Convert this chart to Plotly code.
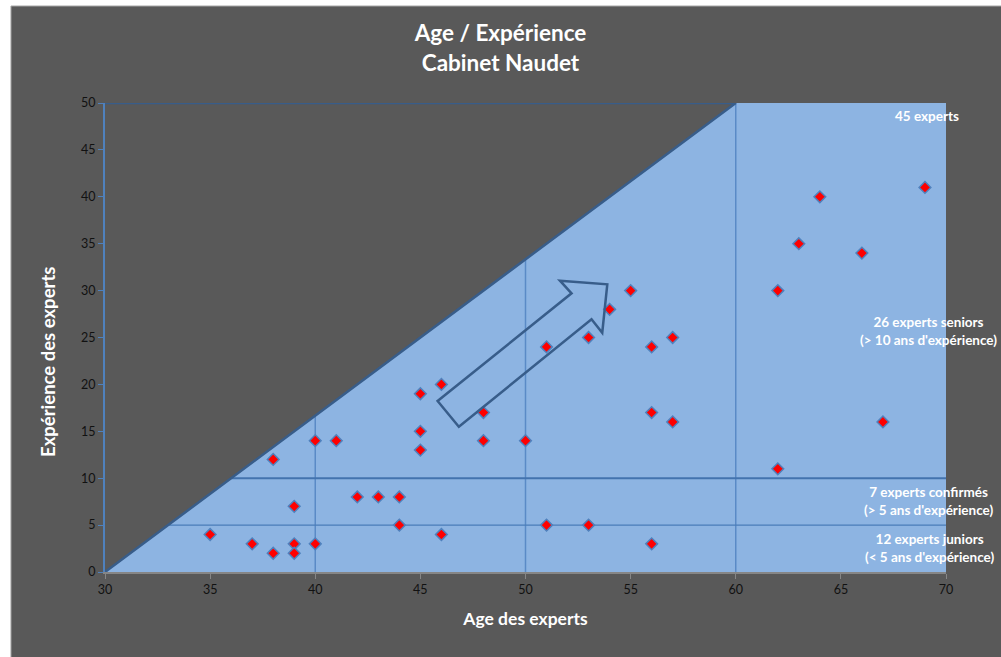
import plotly.graph_objects as go

# ---- data ----
age = [35, 37, 38, 38, 39, 39, 39, 40, 40, 41, 42, 43, 44, 44, 45, 45, 45, 46, 46, 48,
       48, 50, 51, 51, 53, 53, 54, 55, 56, 56, 56, 57, 57, 62, 62, 63, 64, 66, 67, 69]
experience = [4, 3, 2, 12, 7, 3, 2, 14, 3, 14, 8, 8, 8, 5, 19, 15, 13, 20, 4, 17,
              14, 14, 24, 5, 25, 5, 28, 30, 24, 17, 3, 25, 16, 30, 11, 35, 40, 34, 16, 41]

x_ticks = [30, 35, 40, 45, 50, 55, 60, 65, 70]
y_ticks = [0, 5, 10, 15, 20, 25, 30, 35, 40, 45, 50]
v_grid = [40, 50, 60]
h_grid_thin = [5]
h_grid_thick = [10]

# trend arrow outline (data coordinates)
arrow_x = [45.82, 46.83, 53.14, 53.65, 53.89, 51.64, 52.19]
arrow_y = [18.23, 15.49, 26.94, 25.51, 30.67, 31.06, 29.71]

X_MIN, X_MAX, Y_MIN, Y_MAX = 30, 70, 0, 50
DIAG_END = 60  # age at which the diagonal reaches Y_MAX

def diag_y(x):
    return min(Y_MAX, (x - X_MIN) * Y_MAX / (DIAG_END - X_MIN))

def diag_x(y):
    return X_MIN + y * (DIAG_END - X_MIN) / Y_MAX

BG = "#595959"
BLUE_FILL = "#8DB4E2"
DARK_BLUE = "#385D8A"
FONT = "Lato"

fig = go.Figure()

# light blue feasible region
fig.add_trace(go.Scatter(
    x=[X_MIN, DIAG_END, X_MAX, X_MAX, X_MIN],
    y=[Y_MIN, Y_MAX, Y_MAX, Y_MIN, Y_MIN],
    fill="toself", fillcolor=BLUE_FILL, mode="none",
    hoverinfo="skip", showlegend=False))

# gridlines clipped to region
gx, gy = [], []
for v in v_grid:
    gx += [v, v, None]
    gy += [Y_MIN, diag_y(v), None]
fig.add_trace(go.Scatter(x=gx, y=gy, mode="lines",
                         line=dict(color="#5A8AC6", width=1.5),
                         hoverinfo="skip", showlegend=False))
hx, hy = [], []
for h in h_grid_thin:
    hx += [diag_x(h), X_MAX, None]
    hy += [h, h, None]
fig.add_trace(go.Scatter(x=hx, y=hy, mode="lines",
                         line=dict(color="#4A7CB8", width=1.3),
                         hoverinfo="skip", showlegend=False))
hx, hy = [], []
for h in h_grid_thick:
    hx += [diag_x(h), X_MAX, None]
    hy += [h, h, None]
fig.add_trace(go.Scatter(x=hx, y=hy, mode="lines",
                         line=dict(color="#4373AE", width=2),
                         hoverinfo="skip", showlegend=False))

# diagonal and top border
fig.add_trace(go.Scatter(x=[X_MIN, DIAG_END, X_MIN], y=[Y_MIN, Y_MAX, Y_MAX],
                         mode="lines", line=dict(color=DARK_BLUE, width=2.5),
                         cliponaxis=False, hoverinfo="skip", showlegend=False))

# data points
fig.add_trace(go.Scatter(
    x=age, y=experience, mode="markers",
    marker=dict(symbol="diamond", size=9, color="#FF0000",
                line=dict(color="#4F81BD", width=1.5)),
    showlegend=False))

# arrow shape
path = "M " + " L ".join(f"{a} {b}" for a, b in zip(arrow_x, arrow_y)) + " Z"
fig.add_shape(type="path", path=path, xref="x", yref="y",
              line=dict(color=DARK_BLUE, width=2.5), fillcolor="rgba(0,0,0,0)")

# dark chart background with light border
fig.add_shape(type="rect", xref="paper", yref="paper",
              x0=-0.1118, x1=1.08, y0=-0.20, y1=1.2068,
              fillcolor=BG, line=dict(color="#A6A6A6", width=1), layer="below")

ann_font = dict(family=FONT, size=13.5, color="white")
def ann(text, xpx, yval):
    fig.add_annotation(text=f"<b>{text}</b>", xref="paper", yref="y",
                       x=(xpx - 105) / 841, y=yval, showarrow=False,
                       font=ann_font, align="center", xanchor="center", yanchor="middle")

ann("45 experts", 927, 48.6)
ann("26 experts seniors<br>(&gt; 10 ans d'expérience)", 928, 25.7)
ann("7 experts confirmés<br>(&gt; 5 ans d'expérience)", 928, 7.6)
ann("12 experts juniors<br>(&lt; 5 ans d'expérience)", 929, 2.6)

# y-axis title (placed as in the reference, slightly below centre)
fig.add_annotation(text="<b>Expérience des experts</b>", xref="paper", yref="paper",
                   x=(48 - 105) / 841, y=(572 - 362) / 469, textangle=-90,
                   showarrow=False, xanchor="center", yanchor="middle",
                   font=dict(family=FONT, size=18.5, color="white"))

fig.update_layout(
    width=1001, height=657,
    margin=dict(l=105, r=55, t=103, b=85),
    paper_bgcolor="white", plot_bgcolor="rgba(0,0,0,0)",
    title=dict(text="<b>Age / Expérience<br>Cabinet Naudet</b>",
               x=0.5, xanchor="center", y=0.937, yanchor="middle",
               font=dict(family=FONT, size=22.5, color="white")),
    xaxis=dict(range=[X_MIN, X_MAX], tickvals=x_ticks, showgrid=False, zeroline=False,
               showline=True, linecolor="#868686", linewidth=1.5,
               ticks="outside", ticklen=5, tickcolor="#868686",
               tickfont=dict(family=FONT, size=12.5, color="#111111"),
               title=dict(text="<b>Age des experts</b>", standoff=17,
                          font=dict(family=FONT, size=17.5, color="white"))),
    yaxis=dict(range=[Y_MIN, Y_MAX], tickvals=y_ticks, showgrid=False, zeroline=False,
               showline=True, linecolor="#4F81BD", linewidth=2,
               ticks="outside", ticklen=5, tickcolor="#4F81BD",
               tickfont=dict(family=FONT, size=12.5, color="#111111")),
)

fig.write_html("out.html", config={"displayModeBar": False},
               post_script="document.body.style.margin='0';document.body.style.overflow='hidden';")
